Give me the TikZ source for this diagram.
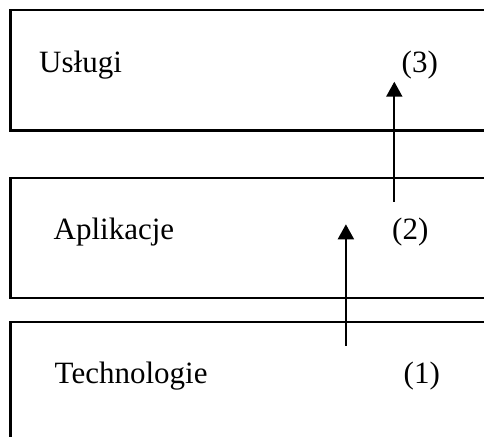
\documentclass[tikz,border=0pt]{standalone}
\usepackage{fontspec}
\setmainfont{Liberation Serif}
\usetikzlibrary{arrows.meta}
\begin{document}
\begin{tikzpicture}[x=1pt,y=-1pt,
  layer/.style={draw, line width=2.2pt, rectangle, inner sep=0pt, anchor=north west,
    minimum width=500pt},
  label/.style={inner sep=0pt, anchor=base west, font=\fontsize{31}{36}\selectfont},
  up/.style={line width=2pt, -{Triangle[width=16pt,length=15pt]}}]
  \useasboundingbox (0,0) rectangle (484,436);
  % three stacked layers, running off the right edge
  \node[layer, minimum height=120pt] (uslugi) at (9.3,9.3) {};
  \node[layer, minimum height=119.7pt] (aplikacje) at (9.3,177) {};
  \node[layer, minimum height=130pt] (technologie) at (9.3,321) {};
  % labels
  \node[label] (t3) at (39,72.5) {Usługi};
  \node[label] (n3) at (401.5,72.5) {(3)};
  \node[label] (t2) at (53.5,239.5) {Aplikacje};
  \node[label] (n2) at (392,239.5) {(2)};
  \node[label] (t1) at (54.5,383.3) {Technologie};
  \node[label] (n1) at (403.5,383.3) {(1)};
  % arrows between the layers
  \coordinate (a2from) at (394.3,201.7);
  \coordinate (a2to) at (394.3,81.7);
  \coordinate (a1from) at (345.9,345.7);
  \coordinate (a1to) at (345.9,224.3);
  \draw[up] (a2from) -- (a2to);
  \draw[up] (a1from) -- (a1to);
\end{tikzpicture}
\end{document}
